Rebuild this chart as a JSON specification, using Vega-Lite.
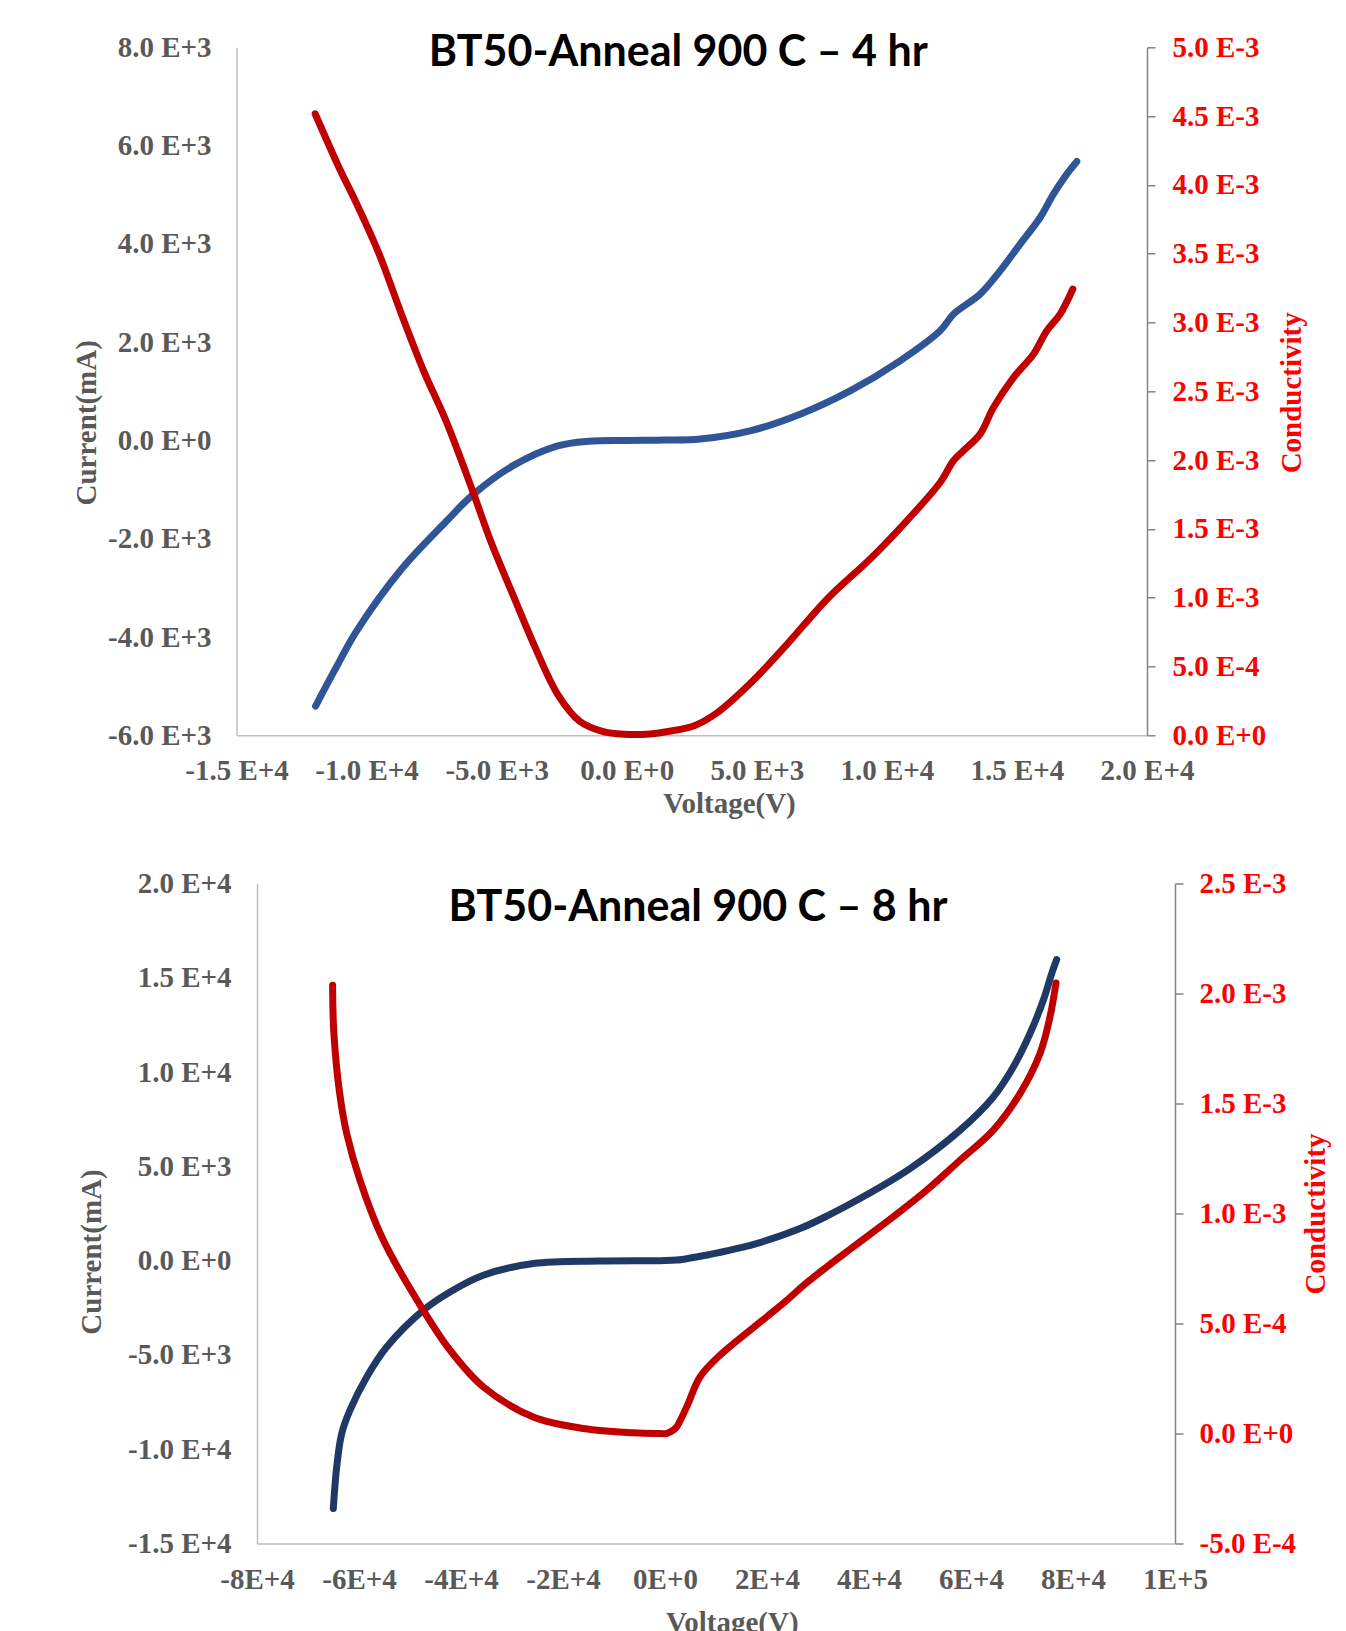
{
  "$schema": "https://vega.github.io/schema/vega-lite/v6.json",
  "background": "white",
  "padding": {"left": 71.5, "top": 32.3, "right": 5, "bottom": 0},
  "datasets": {
    "cur4": [
      {"V": -11960, "I": -5405}, {"V": -11221, "I": -4670}, {"V": -10385, "I": -3881}, {"V": -8654, "I": -2617},
      {"V": -6962, "I": -1660}, {"V": -5923, "I": -1110}, {"V": -4385, "I": -518}, {"V": -2654, "I": -110},
      {"V": -1462, "I": -15}, {"V": 0, "I": 0}, {"V": 1500, "I": 8}, {"V": 2820, "I": 30},
      {"V": 4742, "I": 195}, {"V": 6665, "I": 535}, {"V": 8587, "I": 1009}, {"V": 10509, "I": 1620},
      {"V": 12047, "I": 2230}, {"V": 12559, "I": 2570}, {"V": 13585, "I": 2977}, {"V": 14354, "I": 3451},
      {"V": 15123, "I": 3995}, {"V": 15892, "I": 4536}, {"V": 16403, "I": 5012}, {"V": 16918, "I": 5419},
      {"V": 17303, "I": 5676}
    ],
    "con4": [
      {"V": -11977, "C": 0.004517}, {"V": -11065, "C": 0.004129}, {"V": -10385, "C": 0.003865}, {"V": -9519, "C": 0.003499},
      {"V": -8662, "C": 0.003062}, {"V": -7808, "C": 0.002649}, {"V": -6946, "C": 0.002285}, {"V": -5923, "C": 0.001776},
      {"V": -5231, "C": 0.001412}, {"V": -4385, "C": 0.001026}, {"V": -3512, "C": 0.000635}, {"V": -2654, "C": 0.000298},
      {"V": -1808, "C": 0.000102}, {"V": -935, "C": 0.000029}, {"V": -77, "C": 0.000008}, {"V": 885, "C": 0.00001},
      {"V": 1638, "C": 0.000029}, {"V": 2600, "C": 0.00007}, {"V": 3462, "C": 0.000162}, {"V": 4835, "C": 0.000393},
      {"V": 6038, "C": 0.000635}, {"V": 7754, "C": 0.001}, {"V": 9356, "C": 0.001281}, {"V": 10767, "C": 0.001559},
      {"V": 12047, "C": 0.001837}, {"V": 12559, "C": 0.001995}, {"V": 12943, "C": 0.002068}, {"V": 13585, "C": 0.002189},
      {"V": 14097, "C": 0.002382}, {"V": 14866, "C": 0.0026}, {"V": 15634, "C": 0.00277}, {"V": 16149, "C": 0.00294},
      {"V": 16661, "C": 0.003061}, {"V": 17149, "C": 0.003243}
    ],
    "cur8": [
      {"V": -65039, "I": -13146}, {"V": -64373, "I": -10940}, {"V": -63392, "I": -9169}, {"V": -61765, "I": -7933},
      {"V": -58490, "I": -6167}, {"V": -54569, "I": -4577}, {"V": -47392, "I": -2630}, {"V": -42157, "I": -1660},
      {"V": -35627, "I": -774}, {"V": -25824, "I": -154}, {"V": -12745, "I": -20}, {"V": -980, "I": 0},
      {"V": 2294, "I": 30}, {"V": 8824, "I": 330}, {"V": 13392, "I": 600}, {"V": 18627, "I": 960},
      {"V": 26471, "I": 1700}, {"V": 32000, "I": 2400}, {"V": 38235, "I": 3293}, {"V": 48039, "I": 4884},
      {"V": 57843, "I": 6915}, {"V": 64373, "I": 8681}, {"V": 68294, "I": 10272}, {"V": 71569, "I": 12043},
      {"V": 74176, "I": 13809}, {"V": 75824, "I": 15225}, {"V": 76804, "I": 15968}
    ],
    "con8": [
      {"V": -65176, "C": 0.002038}, {"V": -64922, "C": 0.001817}, {"V": -63725, "C": 0.001535}, {"V": -62412, "C": 0.001364},
      {"V": -59804, "C": 0.001151}, {"V": -55235, "C": 0.000879}, {"V": -47392, "C": 0.00056}, {"V": -42157, "C": 0.000379},
      {"V": -35627, "C": 0.000212}, {"V": -25824, "C": 0.000075}, {"V": -16020, "C": 0.000023}, {"V": -6216, "C": 0.000003},
      {"V": -980, "C": 0}, {"V": 333, "C": 0}, {"V": 1627, "C": 0.000015}, {"V": 2294, "C": 0.00003},
      {"V": 4255, "C": 0.000121}, {"V": 6863, "C": 0.000257}, {"V": 10784, "C": 0.000356}, {"V": 19941, "C": 0.00053},
      {"V": 23863, "C": 0.000605}, {"V": 27500, "C": 0.00068}, {"V": 31706, "C": 0.000757}, {"V": 36608, "C": 0.000843},
      {"V": 44765, "C": 0.000985}, {"V": 51314, "C": 0.001106}, {"V": 57843, "C": 0.001242}, {"V": 64373, "C": 0.001379},
      {"V": 69608, "C": 0.001545}, {"V": 73529, "C": 0.001727}, {"V": 75490, "C": 0.001894}, {"V": 76667, "C": 0.002048}
    ]
  },
  "config": {
    "view": {"stroke": null},
    "axis": {
      "grid": false,
      "labelFont": "Liberation Serif", "labelFontSize": 29, "labelFontWeight": "bold", "labelColor": "#595959",
      "titleFont": "Liberation Serif", "titleFontSize": 29, "titleFontWeight": "bold", "titleColor": "#595959",
      "labelFlush": false, "labelOverlap": false, "labelBound": false
    },
    "title": {"font": "Lato", "fontSize": 43, "fontWeight": "bold", "color": "#000000", "anchor": "middle", "frame": "group", "baseline": "alphabetic"}
  },
  "columns": 1,
  "align": "none",
  "spacing": 51.2,
  "concat": [
    {
      "width": 910.5,
      "height": 688,
      "title": {"text": "BT50-Anneal 900 C – 4 hr", "offset": -42, "dx": -13.5},
      "encoding": {
        "x": {
          "field": "V", "type": "quantitative",
          "scale": {"domain": [-15000, 20000], "nice": false, "zero": false},
          "axis": {
            "title": "Voltage(V)", "values": [-15000, -10000, -5000, 0, 5000, 10000, 15000, 20000],
            "labelExpr": "replace(replace(format(datum.value, '.1e'), '−', '-'), 'e', ' E')",
            "ticks": false, "domainColor": "#BFBFBF", "domainWidth": 1.5, "labelPadding": 21,
            "titleX": 492.5, "titleY": 77, "titleBaseline": "alphabetic", "titleAlign": "center"
          }
        }
      },
      "layer": [
        {
          "data": {"name": "cur4"},
          "mark": {"type": "line", "color": "#2F5597", "strokeWidth": 7, "strokeCap": "round", "strokeJoin": "round", "interpolate": "catmull-rom"},
          "encoding": {
            "y": {
              "field": "I", "type": "quantitative",
              "scale": {"domain": [-6000, 8000], "nice": false, "zero": false},
              "axis": {
                "orient": "left", "title": "Current(mA)", "values": [-6000, -4000, -2000, 0, 2000, 4000, 6000, 8000],
                "labelExpr": "replace(replace(format(datum.value, '.1e'), '−', '-'), 'e', ' E')",
                "ticks": false, "domainColor": "#BFBFBF", "domainWidth": 1.5, "labelPadding": 25.5,
                "titleAngle": 270, "titleX": -150.5, "titleY": 375, "titleBaseline": "middle", "titleAlign": "center"
              }
            }
          }
        },
        {
          "data": {"name": "con4"},
          "mark": {"type": "line", "color": "#C00000", "strokeWidth": 7, "strokeCap": "round", "strokeJoin": "round", "interpolate": "catmull-rom"},
          "encoding": {
            "y": {
              "field": "C", "type": "quantitative",
              "scale": {"domain": [0, 0.005], "nice": false, "zero": false},
              "axis": {
                "orient": "right", "title": "Conductivity",
                "values": [0, 0.0005, 0.001, 0.0015, 0.002, 0.0025, 0.003, 0.0035, 0.004, 0.0045, 0.005],
                "labelExpr": "replace(replace(format(datum.value, '.1e'), '−', '-'), 'e', ' E')",
                "labelColor": "#FF0000", "titleColor": "#FF0000",
                "ticks": true, "tickSize": 8, "tickColor": "#868686", "tickWidth": 1.5,
                "domainColor": "#868686", "domainWidth": 1.5, "labelPadding": 17,
                "titleAngle": 270, "titleX": 145, "titleY": 345, "titleBaseline": "middle", "titleAlign": "center"
              }
            }
          }
        }
      ],
      "resolve": {"scale": {"y": "independent"}}
    },
    {
      "width": 938.5,
      "height": 660,
      "title": {"text": "BT50-Anneal 900 C – 8 hr", "offset": -60.6, "dx": -7.75},
      "encoding": {
        "x": {
          "field": "V", "type": "quantitative",
          "scale": {"domain": [-80000, 100000], "nice": false, "zero": false, "range": [20.5, 938.5]},
          "axis": {
            "title": "Voltage(V)", "values": [-80000, -60000, -40000, -20000, 0, 20000, 40000, 60000, 80000, 100000],
            "labelExpr": "replace(replace(format(datum.value, '.0e'), '−', '-'), 'e', 'E')",
            "ticks": false, "domainColor": "#BFBFBF", "domainWidth": 1.5, "labelPadding": 22,
            "titleX": 495.3, "titleY": 88, "titleBaseline": "alphabetic", "titleAlign": "center"
          }
        }
      },
      "layer": [
        {
          "data": {"name": "cur8"},
          "mark": {"type": "line", "color": "#203864", "strokeWidth": 7, "strokeCap": "round", "strokeJoin": "round", "interpolate": "catmull-rom"},
          "encoding": {
            "y": {
              "field": "I", "type": "quantitative",
              "scale": {"domain": [-15000, 20000], "nice": false, "zero": false},
              "axis": {
                "orient": "left", "offset": -20.5, "title": "Current(mA)", "values": [-15000, -10000, -5000, 0, 5000, 10000, 15000, 20000],
                "labelExpr": "replace(replace(format(datum.value, '.1e'), '−', '-'), 'e', ' E')",
                "ticks": false, "domainColor": "#BFBFBF", "domainWidth": 1.5, "labelPadding": 26,
                "titleAngle": 270, "titleX": -165.5, "titleY": 368, "titleBaseline": "middle", "titleAlign": "center"
              }
            }
          }
        },
        {
          "data": {"name": "con8"},
          "mark": {"type": "line", "color": "#C00000", "strokeWidth": 7, "strokeCap": "round", "strokeJoin": "round", "interpolate": "catmull-rom"},
          "encoding": {
            "y": {
              "field": "C", "type": "quantitative",
              "scale": {"domain": [-0.0005, 0.0025], "nice": false, "zero": false},
              "axis": {
                "orient": "right", "title": "Conductivity",
                "values": [-0.0005, 0, 0.0005, 0.001, 0.0015, 0.002, 0.0025],
                "labelExpr": "replace(replace(format(datum.value, '.1e'), '−', '-'), 'e', ' E')",
                "labelColor": "#FF0000", "titleColor": "#FF0000",
                "ticks": true, "tickSize": 8, "tickColor": "#868686", "tickWidth": 1.5,
                "domainColor": "#868686", "domainWidth": 1.5, "labelPadding": 16,
                "titleAngle": 270, "titleX": 141, "titleY": 330, "titleBaseline": "middle", "titleAlign": "center"
              }
            }
          }
        }
      ],
      "resolve": {"scale": {"y": "independent"}}
    }
  ]
}
